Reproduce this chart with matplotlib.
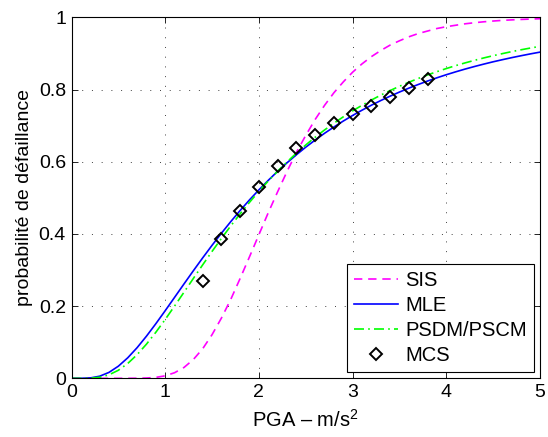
import matplotlib
matplotlib.use("Agg")
import matplotlib.pyplot as plt

plt.rcParams["font.family"] = ["Liberation Sans", "DejaVu Sans"]
plt.rcParams["mathtext.fontset"] = "custom"
plt.rcParams["mathtext.rm"] = "Liberation Sans"
plt.rcParams["mathtext.it"] = "Liberation Sans:italic"

# PGA grid (m/s^2) shared by the three fragility curves
pga = [0.0, 0.1, 0.2, 0.3, 0.4, 0.5, 0.6, 0.7, 0.8, 0.9,
       1.0, 1.1, 1.2, 1.3, 1.4, 1.5, 1.6, 1.7, 1.8, 1.9,
       2.0, 2.1, 2.2, 2.3, 2.4, 2.5, 2.6, 2.7, 2.8, 2.9,
       3.0, 3.1, 3.2, 3.3, 3.4, 3.5, 3.6, 3.7, 3.8, 3.9,
       4.0, 4.1, 4.2, 4.3, 4.4, 4.5, 4.6, 4.7, 4.8, 4.9, 5.0]

p_sis = [0.0, 0.0, 0.0, 0.0, 0.0, 0.0, 0.0, 0.0002, 0.0008, 0.0026,
         0.0069, 0.0155, 0.030, 0.052, 0.082, 0.121, 0.167, 0.219, 0.277, 0.337,
         0.398, 0.459, 0.517, 0.573, 0.626, 0.673, 0.717, 0.756, 0.791, 0.821,
         0.848, 0.871, 0.891, 0.908, 0.923, 0.935, 0.946, 0.955, 0.962, 0.969,
         0.974, 0.978, 0.982, 0.985, 0.9876, 0.9897, 0.9915, 0.9929, 0.9941, 0.9951, 0.996]

p_mle = [0.0, 0.00003, 0.001, 0.0058, 0.0164, 0.0336, 0.0568, 0.0849, 0.1168, 0.1513,
         0.1874, 0.2243, 0.2613, 0.2979, 0.3337, 0.3685, 0.402, 0.4342, 0.465, 0.4944,
         0.5221, 0.5485, 0.5735, 0.597, 0.6193, 0.6403, 0.66, 0.6787, 0.6961, 0.7126,
         0.7281, 0.7427, 0.7565, 0.7694, 0.7816, 0.793, 0.8038, 0.8139, 0.8235, 0.8325,
         0.841, 0.849, 0.8566, 0.8637, 0.8704, 0.8768, 0.8827, 0.8884, 0.8937, 0.8988, 0.9036]

p_psdm = [0.0, 0.00001, 0.0004, 0.0028, 0.0097, 0.0223, 0.0411, 0.0655, 0.0947, 0.1276,
          0.1631, 0.2003, 0.2383, 0.2766, 0.3144, 0.3516, 0.3876, 0.4224, 0.4558, 0.4877,
          0.518, 0.5467, 0.5739, 0.5995, 0.6237, 0.6464, 0.6678, 0.6879, 0.7066, 0.7243,
          0.7408, 0.7563, 0.7708, 0.7844, 0.7971, 0.809, 0.8201, 0.8306, 0.8404, 0.8495,
          0.8581, 0.8662, 0.8737, 0.8808, 0.8875, 0.8937, 0.8995, 0.9051, 0.9102, 0.915, 0.9196]

# Monte Carlo points
mcs_pga = [1.4, 1.6, 1.8, 2.0, 2.2, 2.4, 2.6, 2.8, 3.0, 3.2, 3.4, 3.6, 3.8]
mcs_p = [0.270, 0.385, 0.464, 0.531, 0.589, 0.637, 0.674, 0.706, 0.731, 0.754, 0.778, 0.805, 0.829]

fig = plt.figure(figsize=(5.48, 4.37), dpi=100)
ax = fig.add_axes([0.1305, 0.1343, 0.855, 0.8261])

ax.plot(pga, p_sis, color="#ff00ff", lw=1.2, ls=(0, (5, 3.5)), label="SIS")
ax.plot(pga, p_mle, color="#0000ff", lw=1.2, ls="-", label="MLE")
ax.plot(pga, p_psdm, color="#00ff00", lw=1.2, ls=(0, (6, 2.5, 1, 2.5)), label="PSDM/PSCM")
ax.plot(mcs_pga, mcs_p, ls="none", marker="D", ms=6, mfc="none", mec="black",
        mew=1.4, label="MCS")

ax.set_xlim(0, 5)
ax.set_ylim(0, 1)
ax.set_xticks([0, 1, 2, 3, 4, 5])
ax.set_yticks([0, 0.2, 0.4, 0.6, 0.8, 1])
ax.set_yticklabels(["0", "0.2", "0.4", "0.6", "0.8", "1"])
ax.tick_params(direction="in", top=True, right=True, length=4, width=0.6,
               labelsize=14, pad=4)
ax.grid(True, color="#404040", ls=(0, (1, 9)), lw=0.7)
for s in ax.spines.values():
    s.set_linewidth(0.8)

ax.set_xlabel("PGA – m/s$^{2}$", fontsize=14.5, labelpad=6)
ax.set_ylabel("probabilité de défaillance", fontsize=14, labelpad=4)

leg = ax.legend(loc="lower right", fontsize=14.5, frameon=True, fancybox=False,
                framealpha=1, edgecolor="black", handlelength=2.2,
                handletextpad=0.35, labelspacing=0.3, borderpad=0.35,
                borderaxespad=0.3)
leg.get_frame().set_linewidth(0.8)

fig.savefig("out.png", dpi=100)
